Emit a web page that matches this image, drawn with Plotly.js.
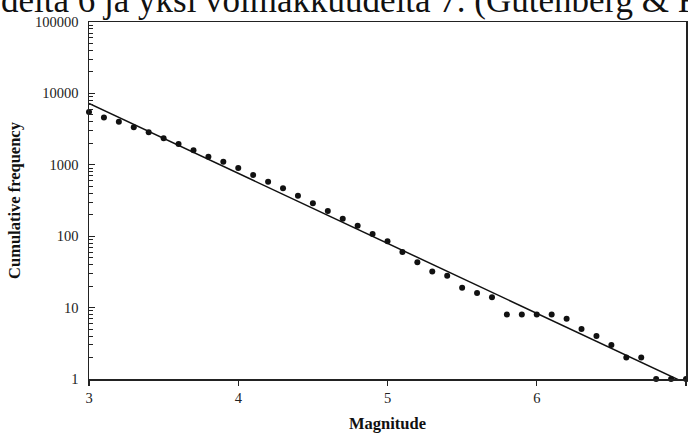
<!DOCTYPE html>
<html>
<head>
<meta charset="utf-8">
<script src="https://cdn.plot.ly/plotly-3.0.1.min.js"></script>
<style>html,body{margin:0;padding:0;background:#fff;}#chart{width:688px;height:435px;}</style>
</head>
<body>
<div id="chart"></div>
<script>
// Observed cumulative frequencies by magnitude
const magnitudes = [3.0,3.1,3.2,3.3,3.4,3.5,3.6,3.7,3.8,3.9,4.0,4.1,4.2,4.3,4.4,4.5,4.6,4.7,4.8,4.9,5.0,5.1,5.2,5.3,5.4,5.5,5.6,5.7,5.8,5.9,6.0,6.1,6.2,6.3,6.4,6.5,6.6,6.7,6.8,6.9,7.0];
const cumulativeFreq = [5500,4600,4000,3350,2850,2350,1950,1600,1300,1100,900,720,580,470,370,290,225,175,140,107,85,60,43,32,28,19,16,14,8,8,8,8,7,5,4,3,2,2,1,1,1];
// Fitted Gutenberg-Richter line (end points)
const fitMag = [3, 7];
const fitFreq = [7260, 0.87];
const yTickVals = [1,10,100,1000,10000,100000];
const yTickText = ['1','10','100','1000','10000','100000'];
const xTickVals = [3,4,5,6,7];
const topText = 'delta 6 ja yksi voimakkuudelta 7. (Gutenberg &amp; R';

const serif = 'Liberation Serif, Times New Roman, serif';
const axisCol = '#222';

const traces = [
  {x: fitMag, y: fitFreq, mode: 'lines', line: {color: '#111', width: 1.5}, hoverinfo: 'skip'},
  {x: magnitudes, y: cumulativeFreq, mode: 'markers', marker: {color: '#111', size: 6}, cliponaxis: false}
];

const layout = {
  width: 688, height: 435,
  margin: {l: 89, r: 2, t: 22, b: 56},
  paper_bgcolor: '#fff', plot_bgcolor: '#fff',
  showlegend: false,
  font: {family: serif, color: '#111', size: 14},
  xaxis: {
    range: [3, 7], tickvals: xTickVals, ticks: 'outside', ticklen: 5, tickcolor: axisCol, tickwidth: 1.2,
    showline: true, linecolor: axisCol, linewidth: 1.5, mirror: true,
    showgrid: false, zeroline: false,
    tickfont: {family: serif, size: 14.5, color: '#222'},
    title: {text: '<b>Magnitude</b>', font: {family: serif, size: 16.5, color: '#111'}, standoff: 12}
  },
  yaxis: {
    type: 'log', range: [0, 5], tickvals: yTickVals, ticktext: yTickText,
    ticks: 'inside', ticklen: 6, tickcolor: axisCol, tickwidth: 1.2,
    minor: {ticks: 'inside', ticklen: 4, tickcolor: axisCol, tickwidth: 1, dtick: 'D1', showgrid: false},
    showline: true, linecolor: axisCol, linewidth: 1.5, mirror: true,
    showgrid: false, zeroline: false, ticklabelstandoff: 6,
    tickfont: {family: serif, size: 14.5, color: '#222'},
    title: {text: '<b>Cumulative frequency</b>', font: {family: serif, size: 16.5, color: '#111'}, standoff: 10}
  },
  annotations: [{
    text: topText, xref: 'paper', yref: 'paper', x: -90/597, y: 1,
    xanchor: 'left', yanchor: 'bottom', showarrow: false,
    font: {family: serif, size: 35, color: '#111'}
  }]
};

Plotly.newPlot('chart', traces, layout, {staticPlot: true, displayModeBar: false});
</script>
</body>
</html>
